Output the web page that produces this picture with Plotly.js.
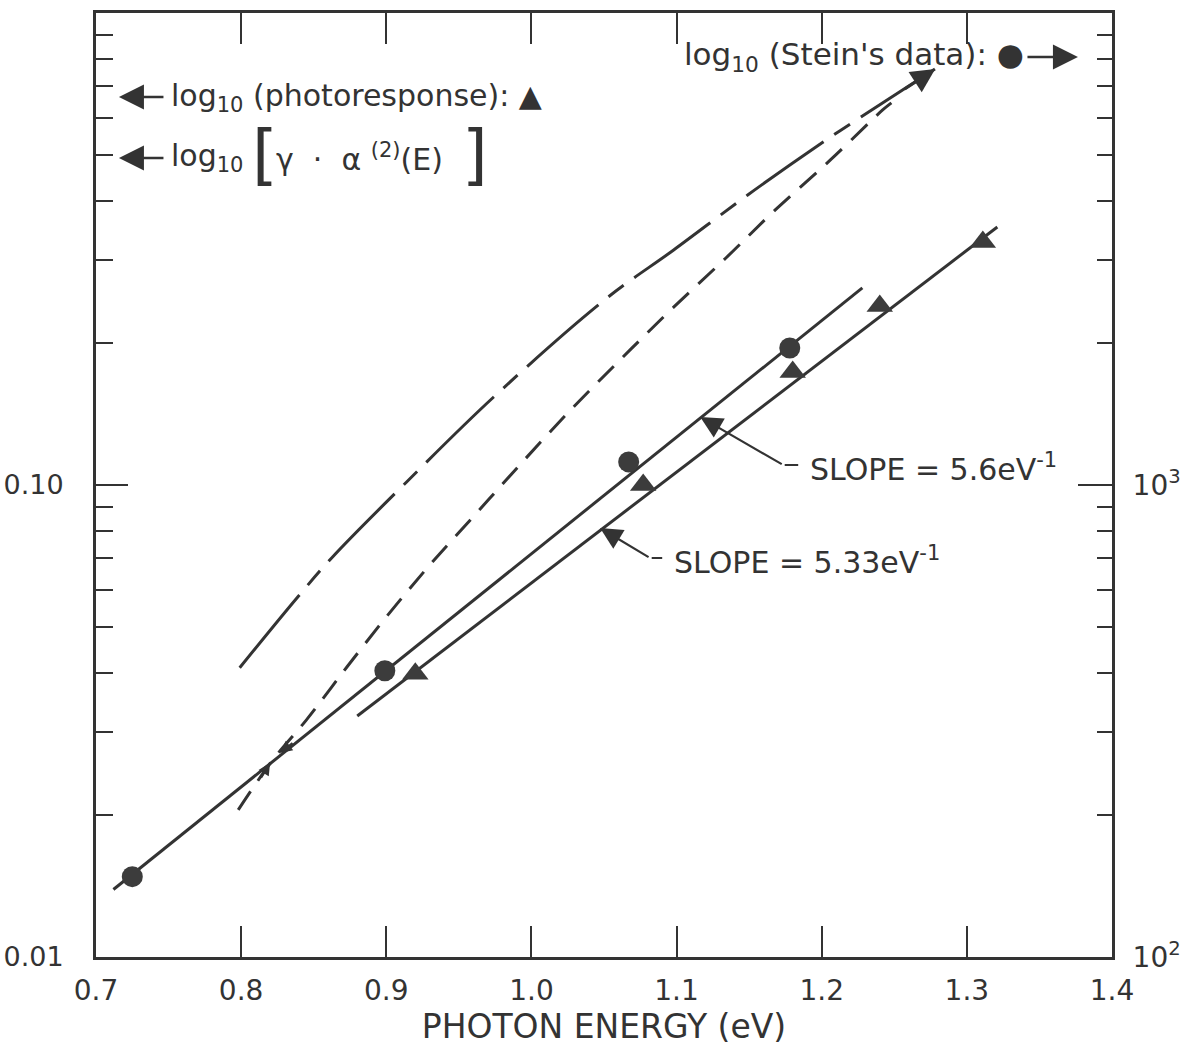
<!DOCTYPE html>
<html>
<head>
<meta charset="utf-8">
<script src="https://cdn.plot.ly/plotly-3.0.1.min.js"></script>
<style>html,body{margin:0;padding:0;background:#fff;}#chart{width:1182px;height:1048px;}</style>
</head>
<body>
<div id="chart"></div>
<script>
// ---- data ----
const energyTicks = [0.7, 0.8, 0.9, 1.0, 1.1, 1.2, 1.3, 1.4];
const energyTickText = ["0.7", "0.8", "0.9", "1.0", "1.1", "1.2", "1.3", "1.4"];
const leftTickVals = [0.01, 0.1, 1];
const leftTickText = ["0.01", "0.10", ""];
const rightTickVals = [100, 1000, 10000];
const rightTickText = ["10<sup>2</sup>", "10<sup>3</sup>", ""];

// Stein's data (right axis)
const steinEnergy = [0.725, 0.899, 1.067, 1.178];
const steinValue = [148, 404, 1119, 1951];
// photoresponse (left axis)
const photoEnergy = [0.920, 1.077, 1.180, 1.240, 1.311];
const photoValue = [0.0398, 0.1000, 0.1735, 0.2394, 0.3272];
// straight fits
const steinFitEnergy = [0.712, 1.228];
const steinFitValue = [139, 2615];
const photoFitEnergy = [0.880, 1.321];
const photoFitValue = [0.0324, 0.352];
// log10[gamma * alpha2(E)] curves (left axis)
const upperEnergy = [0.799, 0.839, 0.863, 0.914, 0.974, 1.052, 1.098, 1.149, 1.198, 1.227, 1.278];
const upperValue = [0.0410, 0.0579, 0.0704, 0.1015, 0.1536, 0.2489, 0.3147, 0.4116, 0.5253, 0.6021, 0.761];
const lowerEnergy = [0.798, 0.822, 0.845, 0.873, 0.901, 0.930, 0.961, 0.992, 1.027, 1.061, 1.096, 1.134, 1.168, 1.206, 1.242, 1.248];
const lowerValue = [0.0205, 0.0262, 0.0318, 0.0412, 0.0530, 0.0677, 0.0864, 0.1103, 0.1442, 0.1840, 0.2349, 0.3027, 0.3826, 0.4883, 0.6231, 0.645];

const INK = '#333333';
const FONT = 'DejaVu Sans, sans-serif';
const NB = '\u00a0';

const leftMinor = [0.02,0.03,0.04,0.05,0.06,0.07,0.08,0.09,0.2,0.3,0.4,0.5,0.6,0.7,0.8,0.9];
const rightMinor = leftMinor.map(v => v * 10000);

const traces = [
  {x: upperEnergy, y: upperValue, mode: 'lines', line: {color: INK, width: 3, shape: 'spline', dash: '94px,13px,19px,13px'}, yaxis: 'y', hoverinfo: 'skip'},
  {x: lowerEnergy, y: lowerValue, mode: 'lines', line: {color: INK, width: 3, shape: 'spline', dash: '22px,13px'}, yaxis: 'y', hoverinfo: 'skip'},
  {x: photoFitEnergy, y: photoFitValue, mode: 'lines', line: {color: INK, width: 3}, yaxis: 'y'},
  {x: steinFitEnergy, y: steinFitValue, mode: 'lines', line: {color: INK, width: 3}, yaxis: 'y2'},
  {x: photoEnergy, y: photoValue, mode: 'markers', marker: {symbol: 'triangle-up', size: 23, color: '#3c3c3c'}, yaxis: 'y'},
  {x: steinEnergy, y: steinValue, mode: 'markers', marker: {symbol: 'circle', size: 21, color: '#3c3c3c'}, yaxis: 'y2'}
];

function arrow(x, y, ax, ay, opts) {
  return Object.assign({x: x, y: y, xref: 'x', yref: 'y', ax: ax, ay: ay, text: '', showarrow: true,
    arrowhead: 2, arrowsize: 2.0, arrowwidth: 2.2, arrowcolor: INK}, opts || {});
}
function label(text, x, y, size, opts) {
  return Object.assign({text: text, x: x, y: y, xref: 'paper', yref: 'paper', xanchor: 'left', yanchor: 'middle',
    showarrow: false, font: {family: FONT, size: size, color: INK}}, opts || {});
}
function paperArrow(x, y, ax) {
  return {x: x, y: y, xref: 'paper', yref: 'paper', ax: ax, ay: 0, text: '', showarrow: true,
    arrowhead: 2, arrowsize: 2.0, arrowwidth: 2.5, arrowcolor: INK};
}

const annotations = [
  // legend-like labels
  label('log<sub>10</sub> (photoresponse): ▲', 0.0719, 0.911, 30),
  label('log<sub>10</sub>', 0.0719, 0.8464, 30),
  label('[', 0.1516, 0.850, 66),
  label('γ' + NB + NB + '·' + NB + NB + 'α' + NB + '<sup>(2)</sup>(E)', 0.1752, 0.8464, 30),
  label(']', 0.358, 0.850, 66),
  label('log<sub>10</sub> (Stein\'s data): ●', 0.5768, 0.9534, 31),
  paperArrow(0.0226, 0.911, 46),
  paperArrow(0.0226, 0.8464, 46),
  paperArrow(0.9665, 0.9534, -52),
  // slope labels
  {text: 'SLOPE = 5.6eV<sup>-1</sup>', x: 1.1907, y: -0.962, xref: 'x', yref: 'y', xanchor: 'left', yanchor: 'middle', showarrow: false, font: {family: FONT, size: 30, color: INK}},
  {text: 'SLOPE = 5.33eV<sup>-1</sup>', x: 1.097, y: -1.161, xref: 'x', yref: 'y', xanchor: 'left', yanchor: 'middle', showarrow: false, font: {family: FONT, size: 30, color: INK}},
  arrow(1.1163, -0.856, 83, 48),
  arrow(1.1838, -0.9576, -15, 0, {arrowhead: 0}),
  arrow(1.0473, -1.0911, 50, 30),
  arrow(1.0901, -1.1547, -12, 0, {arrowhead: 0}),
  // arrowhead at the end of the upper curve
  arrow(1.2782, -0.1186, -32, 21, {arrowsize: 1.6, arrowwidth: 3}),
  // small direction arrows at the crossing
  arrow(0.8268, -1.5678, 14, -11, {arrowsize: 1.0, arrowwidth: 2.4}),
  arrow(0.8199, -1.589, -10, 16, {arrowsize: 1.0, arrowwidth: 2.4})
];

const layout = {
  width: 1182, height: 1048,
  margin: {l: 96, r: 70, t: 13, b: 91},
  paper_bgcolor: '#ffffff', plot_bgcolor: '#ffffff',
  showlegend: false,
  font: {family: FONT, color: INK},
  xaxis: {
    range: [0.7, 1.4], tickmode: 'array', tickvals: energyTicks, ticktext: energyTickText,
    ticks: 'inside', ticklen: 31, tickwidth: 2, tickcolor: INK,
    showline: true, linewidth: 3, linecolor: INK, mirror: 'ticks',
    showgrid: false, zeroline: false, ticklabelstandoff: 6,
    tickfont: {family: FONT, size: 28, color: INK},
    title: {text: 'PHOTON ENERGY (eV)', font: {family: FONT, size: 33, color: INK}, standoff: 8}
  },
  yaxis: {
    type: 'log', range: [-2, 0], tickmode: 'array', tickvals: leftTickVals, ticktext: leftTickText,
    ticks: 'inside', ticklen: 32, tickwidth: 2, tickcolor: INK,
    minor: {tickmode: 'array', tickvals: leftMinor, ticks: 'inside', ticklen: 17, tickwidth: 2, tickcolor: INK, showgrid: false},
    showline: true, linewidth: 3, linecolor: INK,
    showgrid: false, zeroline: false, ticklabelstandoff: 24,
    tickfont: {family: FONT, size: 27, color: INK}
  },
  yaxis2: {
    type: 'log', range: [2, 4], overlaying: 'y', side: 'right', tickmode: 'array', tickvals: rightTickVals, ticktext: rightTickText,
    ticks: 'inside', ticklen: 34, tickwidth: 2, tickcolor: INK,
    minor: {tickmode: 'array', tickvals: rightMinor, ticks: 'inside', ticklen: 15, tickwidth: 2, tickcolor: INK, showgrid: false},
    showline: true, linewidth: 3, linecolor: INK,
    showgrid: false, zeroline: false, ticklabelstandoff: 12,
    tickfont: {family: FONT, size: 28, color: INK}
  },
  annotations: annotations
};

Plotly.newPlot('chart', traces, layout, {staticPlot: true, displayModeBar: false});
</script>
</body>
</html>
